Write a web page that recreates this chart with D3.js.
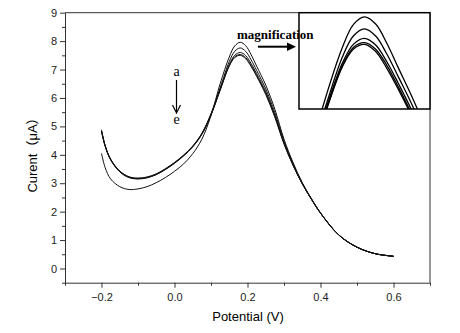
<!DOCTYPE html>
<meta charset="utf-8">
<script src="https://cdn.jsdelivr.net/npm/d3@7"></script>
<style>
body{margin:0;background:#fff;}
.tick text{font-family:"Liberation Sans",Arial,sans-serif;font-size:11px;fill:#222;}
.tick line{stroke:#333;}
.domain{stroke:#333;}
</style>
<body>
<div id="chart"></div>
<script>
// potential (V) and the five DPV curves a..e (current, uA)
var potential=[-0.2,-0.19,-0.175,-0.15,-0.125,-0.1,-0.075,-0.05,-0.025,0,0.025,0.05,0.075,0.1,0.125,0.15,0.165,0.18,0.195,0.21,0.225,0.25,0.275,0.3,0.325,0.35,0.375,0.4,0.45,0.5,0.55,0.6];
var curA=[4.05,3.55,3.15,2.88,2.78,2.80,2.88,3.02,3.20,3.42,3.68,4.04,4.55,5.38,6.50,7.44,7.83,7.96,7.84,7.52,7.12,6.45,5.60,4.55,3.72,3.02,2.46,1.96,1.18,0.75,0.52,0.43];
var curB=[4.88,4.33,3.85,3.43,3.23,3.18,3.22,3.33,3.51,3.73,3.99,4.31,4.76,5.45,6.36,7.28,7.64,7.76,7.64,7.34,6.97,6.32,5.48,4.48,3.68,3.00,2.45,1.95,1.18,0.75,0.52,0.43];
var curC=[4.86,4.32,3.84,3.42,3.22,3.17,3.21,3.32,3.50,3.72,3.98,4.30,4.74,5.42,6.31,7.18,7.50,7.60,7.49,7.21,6.86,6.22,5.40,4.43,3.65,2.99,2.44,1.95,1.18,0.75,0.52,0.43];
var curD=[4.84,4.31,3.83,3.41,3.21,3.16,3.20,3.31,3.49,3.71,3.97,4.29,4.73,5.41,6.28,7.14,7.45,7.53,7.42,7.15,6.80,6.16,5.35,4.40,3.63,2.98,2.44,1.95,1.18,0.75,0.52,0.43];
var curE=[4.82,4.30,3.82,3.40,3.20,3.15,3.19,3.30,3.48,3.70,3.96,4.28,4.72,5.40,6.27,7.12,7.42,7.50,7.38,7.10,6.76,6.12,5.32,4.38,3.62,2.98,2.44,1.95,1.18,0.75,0.52,0.43];
var curves=[curA,curB,curC,curD,curE];

var xTicks=[-0.2,0,0.2,0.4,0.6];
var xMinor=[-0.3,-0.1,0.1,0.3,0.5,0.7];
var yTicks=[0,1,2,3,4,5,6,7,8,9];
var yMinor=[-0.5,0.5,1.5,2.5,3.5,4.5,5.5,6.5,7.5,8.5];

var svg=d3.select("#chart").append("svg")
  .attr("width",460).attr("height",333);
svg.append("rect").attr("width",460).attr("height",333).attr("fill","#fff");

var x=d3.scaleLinear().domain([-0.3,0.7]).range([65,430]);
var y=d3.scaleLinear().domain([-0.5,9]).range([282.7,12.7]);

// axes
svg.append("g").attr("transform","translate(0,282.7)")
  .call(d3.axisBottom(x).tickValues(xTicks).tickSize(5).tickSizeOuter(0).tickFormat(d3.format(".1f")))
  .call(function(g){g.selectAll("text").attr("dy","0.95em");});
svg.append("g").attr("transform","translate(0,282.7)")
  .call(d3.axisBottom(x).tickValues(xMinor).tickSize(3).tickSizeOuter(0).tickFormat(""))
  .select(".domain").remove();
svg.append("g").attr("transform","translate(65,0)")
  .call(d3.axisLeft(y).tickValues(yTicks).tickSize(5).tickSizeOuter(0).tickFormat(d3.format("d")));
svg.append("g").attr("transform","translate(65,0)")
  .call(d3.axisLeft(y).tickValues(yMinor).tickSize(3).tickSizeOuter(0).tickFormat(""))
  .select(".domain").remove();
// top and right frame
svg.append("path")
  .attr("d","M65,12.7H430V282.7")
  .attr("fill","none").attr("stroke","#333");

// curves
var line=d3.line()
  .x(function(d,i){return x(potential[i]);})
  .y(function(d){return y(d);})
  .curve(d3.curveCatmullRom);
svg.append("g").selectAll("path").data(curves).enter().append("path")
  .attr("d",line).attr("fill","none").attr("stroke","#111").attr("stroke-width",1);

// inset (magnified peak)
var ix=d3.scaleLinear().domain([0.092,0.268]).range([299,430]);
var iy=d3.scaleLinear().domain([6.42,8.03]).range([109,12.7]);
svg.append("clipPath").attr("id","insclip").append("rect")
  .attr("x",299).attr("y",12.7).attr("width",131).attr("height",96.3);
svg.append("rect").attr("x",299).attr("y",12.7).attr("width",131).attr("height",96.3)
  .attr("fill","#fff");
var iline=d3.line()
  .x(function(d,i){return ix(potential[i]);})
  .y(function(d){return iy(d);})
  .curve(d3.curveCatmullRom);
svg.append("g").attr("clip-path","url(#insclip)")
  .selectAll("path").data(curves).enter().append("path")
  .attr("d",iline).attr("fill","none").attr("stroke","#000").attr("stroke-width",1.3);
svg.append("rect").attr("x",299).attr("y",12.7).attr("width",131).attr("height",96.3)
  .attr("fill","none").attr("stroke","#000").attr("stroke-width",1.5);

// magnification label + arrow
svg.append("text").attr("x",237).attr("y",39)
  .style("font-family","'Liberation Serif','Times New Roman',serif")
  .style("font-weight","bold").style("font-size","13px")
  .text("magnification");
svg.append("line").attr("x1",258).attr("y1",46.7).attr("x2",290).attr("y2",46.7)
  .attr("stroke","#000").attr("stroke-width",2);
svg.append("path").attr("d","M296,46.7L287,42.5L287,50.9Z").attr("fill","#000");

// a -> e marker
var serif="'Liberation Serif','Times New Roman',serif";
svg.append("text").attr("x",176.5).attr("y",76).attr("text-anchor","middle")
  .style("font-family",serif).style("font-size","14px").text("a");
svg.append("text").attr("x",176.5).attr("y",124).attr("text-anchor","middle")
  .style("font-family",serif).style("font-size","14px").text("e");
svg.append("path").attr("d","M176.5,80V113M172.5,105L176.5,113L180.5,105")
  .attr("fill","none").attr("stroke","#000").attr("stroke-width",1.2);

// axis titles
svg.append("text").attr("x",248).attr("y",321).attr("text-anchor","middle")
  .style("font-family","'Liberation Sans',Arial,sans-serif").style("font-size","13px")
  .text("Potential (V)");
svg.append("text").attr("transform","translate(37,152) rotate(-90)").attr("text-anchor","middle")
  .style("font-family","'Liberation Sans',Arial,'Noto Sans CJK SC',sans-serif").style("font-size","13px")
  .text("Curent（μA）");
</script>
</body>
